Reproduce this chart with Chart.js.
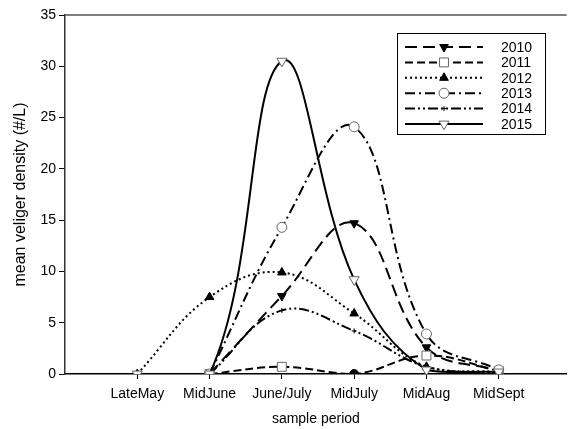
<!DOCTYPE html>
<html>
<head>
<meta charset="utf-8">
<script src="https://cdn.jsdelivr.net/npm/chart.js@4"></script>
<style>
  html, body { margin: 0; padding: 0; background: #fff; }
  #wrap { width: 574px; height: 429px; }
</style>
</head>
<body>
<div id="wrap"><canvas id="veliger"></canvas></div>
<script>
// sample periods (x positions are the index)
var periods = ['LateMay', 'MidJune', 'June/July', 'MidJuly', 'MidAug', 'MidSept'];
var years = ['2010', '2011', '2012', '2013', '2014', '2015'];

// mean veliger density (#/L), null = not sampled
var d2010 = [null, 0, 7.6, 14.7, 2.6, 0.3];
var d2011 = [null, 0, 0.7, 0, 1.8, 0.3];
var d2012 = [0, 7.5, 9.9, 5.9, 0.7, 0.2];
var d2013 = [null, 0, 14.3, 24.1, 3.9, 0.4];
var d2014 = [null, 0, 6.2, 4.2, 0.7, 0.1];
var d2015 = [0, 0, 30.5, 9.2, 0.4, 0.2];

var yTicks = [0, 5, 10, 15, 20, 25, 30, 35];

var FONT = 'Liberation Sans, Arial, sans-serif';

function pts(arr) {
    var out = [];
    arr.forEach(function(v, i) {
        if (v !== null) out.push({x: i, y: v});
    });
    return out;
}

var dsStyles = [
    {dash: [12, 6], style: 'triangle', rot: 180, fill: '#000', edge: '#000', r: 5},
    {dash: [8, 4], style: 'rect', rot: 0, fill: '#fff', edge: '#666', r: 6.3},
    {dash: [2, 3], style: 'triangle', rot: 0, fill: '#000', edge: '#000', r: 5},
    {dash: [10, 4, 2, 4], style: 'circle', rot: 0, fill: '#fff', edge: '#666', r: 5},
    {dash: [10, 3, 2, 3, 2, 3], style: 'cross', rot: 0, fill: '#000', edge: '#000', r: 2.5},
    {dash: [], style: 'triangle', rot: 180, fill: '#fff', edge: '#666', r: 5.8}
];
var series = [d2010, d2011, d2012, d2013, d2014, d2015];

var datasets = series.map(function(arr, i) {
    var s = dsStyles[i];
    return {
        label: years[i],
        data: pts(arr),
        borderColor: '#000',
        borderWidth: 2,
        borderDash: s.dash,
        tension: 0.4,
        fill: false,
        pointStyle: s.style,
        pointRotation: s.rot,
        pointRadius: s.r,
        pointBackgroundColor: s.fill,
        pointBorderColor: s.edge,
        pointBorderWidth: 1,
        order: 6 - i
    };
});

// 2011 mid-July sample drawn as a solid dot in the original
datasets[1].pointStyle = ['rect', 'rect', 'circle', 'rect', 'rect'];
datasets[1].pointRadius = [6.3, 6.3, 4.5, 6.3, 6.3];
datasets[1].pointBackgroundColor = ['#fff', '#fff', '#000', '#fff', '#fff'];
datasets[1].pointBorderColor = ['#666', '#666', '#000', '#666', '#666'];
// 2015 late-May point has no connecting line
datasets[5].segment = {
    borderColor: function(ctx) { return ctx.p0DataIndex === 0 ? 'rgba(0,0,0,0)' : '#000'; }
};

var frame = {
    id: 'frame',
    afterDraw: function(chart) {
        var c = chart.ctx, a = chart.chartArea;
        c.save();
        c.strokeStyle = '#555';
        c.lineWidth = 1.5;
        c.beginPath();
        c.moveTo(a.left, a.top);
        c.lineTo(a.right, a.top);
        c.stroke();

        // legend box
        var bx = a.left + 332, by = a.top + 18, bw = 148, bh = 101;
        c.strokeStyle = '#000';
        c.lineWidth = 1;
        c.fillStyle = '#fff';
        c.fillRect(bx, by, bw, bh);
        c.strokeRect(bx + 0.5, by + 0.5, bw, bh);
        chart.data.datasets.forEach(function(ds, i) {
            var s = dsStyles[i];
            var y = by + 14 + i * 15.4;
            c.strokeStyle = '#000';
            c.lineWidth = 2;
            c.setLineDash(s.dash);
            c.beginPath();
            c.moveTo(bx + 8, y);
            c.lineTo(bx + 86, y);
            c.stroke();
            c.setLineDash([]);
            c.fillStyle = s.fill;
            c.strokeStyle = s.edge;
            c.lineWidth = 1;
            Chart.helpers.drawPoint(c, {pointStyle: s.style, rotation: s.rot, radius: s.r, borderWidth: 1}, bx + 47, y);
            c.fillStyle = '#000';
            c.font = '14px ' + FONT;
            c.textBaseline = 'middle';
            c.textAlign = 'left';
            c.fillText(ds.label, bx + 104, y + 1);
        });
        c.restore();
    }
};

new Chart(document.getElementById('veliger'), {
    type: 'line',
    data: {datasets: datasets},
    options: {
        responsive: true,
        maintainAspectRatio: false,
        animation: false,
        layout: {padding: {top: 15, right: 0, left: 0, bottom: 0}},
        plugins: {
            legend: {display: false},
            tooltip: {enabled: false}
        },
        scales: {
            x: {
                type: 'linear',
                min: -1,
                max: 5.94,
                afterFit: function(s) { s.height = 55; },
                afterBuildTicks: function(s) {
                    s.ticks = periods.map(function(p, i) { return {value: i}; });
                },
                ticks: {
                    color: '#000',
                    padding: 7,
                    maxRotation: 0,
                    autoSkip: false,
                    font: {family: FONT, size: 14},
                    callback: function(v) { return periods[v] || ''; }
                },
                grid: {drawOnChartArea: false, drawTicks: true, tickLength: 5, color: '#000'},
                border: {display: true, color: '#000', width: 1.5},
                title: {
                    display: true,
                    text: 'sample period',
                    color: '#000',
                    font: {family: FONT, size: 14},
                    padding: {top: 0, bottom: 1}
                }
            },
            y: {
                min: 0,
                max: 35,
                afterFit: function(s) { s.width = 65; },
                afterBuildTicks: function(s) {
                    s.ticks = yTicks.map(function(v) { return {value: v}; });
                },
                ticks: {
                    color: '#000',
                    padding: 3,
                    font: {family: FONT, size: 14}
                },
                grid: {drawOnChartArea: false, drawTicks: true, tickLength: 6, color: '#000'},
                border: {display: true, color: '#333', width: 1.5},
                title: {
                    display: true,
                    text: 'mean veliger density (#/L)',
                    color: '#000',
                    font: {family: FONT, size: 16},
                    padding: {top: 11, bottom: 0}
                }
            }
        }
    },
    plugins: [frame]
});
</script>
</body>
</html>
